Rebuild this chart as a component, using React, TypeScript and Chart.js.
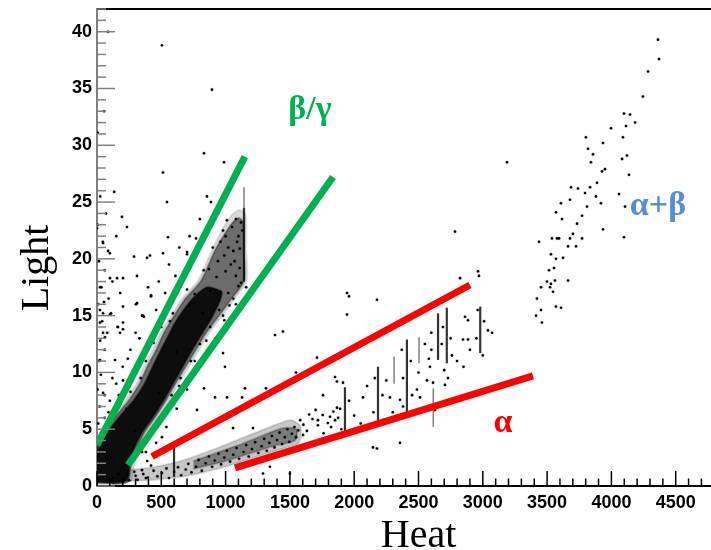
import React, { useEffect, useRef } from "react";
import { Chart, registerables } from "chart.js";

Chart.register(...registerables);

type P = [number, number];

// ---- axes ----
const X_MIN = 0;
const X_MAX = 5000;
const Y_MIN = 0;
const Y_MAX = 42;
const xTickValues = [0, 500, 1000, 1500, 2000, 2500, 3000, 3500, 4000, 4500, 5000];
const yTickValues = [0, 5, 10, 15, 20, 25, 30, 35, 40];
const X_MINOR_STEP = 100;
const Y_MINOR_STEP = 1;
const xTitle = "Heat";
const yTitle = "Light";

// ---- dense regions (outlines) ----
const betaOuter: P[] = [
  [0, 0.1], [0, 3.8], [25, 4.7], [125, 6.2], [225, 7.6], [305, 9], [365, 10.5], [435, 12],
  [495, 13.5], [575, 15], [655, 16.4], [785, 18.1], [895, 20.8], [1020, 23.5], [1100, 24.3],
  [1155, 24], [1160, 20.8], [1165, 18.1], [1065, 16.4], [975, 15], [875, 13.5], [795, 12],
  [715, 10.5], [635, 9], [565, 7.6], [475, 6], [395, 4.7], [325, 3], [285, 1.5], [265, 0.4], [140, 0.1],
];
const betaMid: P[] = [
  [0, 0.2], [0, 3.2], [20, 4], [47, 4.7], [150, 6.2], [250, 7.6], [330, 9], [390, 10.5],
  [460, 12], [520, 13.5], [600, 15], [680, 16.4], [810, 18.1], [920, 20.8], [1040, 23],
  [1100, 23.6], [1140, 23.2], [1140, 20.8], [1145, 18.1], [1040, 16.4], [950, 15], [850, 13.5],
  [770, 12], [690, 10.5], [610, 9], [540, 7.6], [450, 6], [370, 4.7], [300, 3], [260, 1.5],
  [240, 0.4], [120, 0.15],
];
const betaCore: P[] = [
  [5, 0.3], [0, 2.5], [30, 3.8], [80, 4.7], [190, 6.3], [290, 7.6], [370, 9], [425, 10.3],
  [485, 11.7], [545, 13], [605, 14.3], [680, 15.6], [770, 16.8], [860, 17.5], [970, 17],
  [900, 15], [820, 13.5], [740, 12], [665, 10.5], [590, 9], [520, 7.6], [430, 6], [350, 4.7],
  [285, 3.2], [250, 1.5], [230, 0.5], [120, 0.25],
];
const alphaOuter: P[] = [
  [100, 0.4], [400, 0.5], [700, 0.9], [1000, 1.7], [1250, 2.6], [1450, 3.3], [1570, 3.8],
  [1580, 5.3], [1500, 5.8], [1300, 5.0], [1100, 4.1], [900, 3.2], [650, 2.2], [400, 1.6], [150, 1.3],
];
const alphaInner: P[] = [
  [750, 1.5], [1000, 2.2], [1200, 2.9], [1400, 3.6], [1540, 4.0], [1550, 5.0], [1450, 5.1],
  [1300, 4.5], [1100, 3.6], [900, 2.8], [750, 2.2],
];

// ---- vertical streaks [x, yLow, yHigh] ----
const denseStreaks: [number, number, number][] = [
  [599, 0.8, 3.4], [1143, 18, 24.5], [1928, 4.3, 8.7], [2185, 5.2, 10.5], [2410, 6.1, 12.9],
  [2720, 10.8, 15.7], [2980, 11.7, 15.8], [2652, 11.1, 15.2],
];
const faintStreaks: [number, number, number][] = [
  [1143, 24.5, 26.3], [2310, 9, 11.4], [2504, 10.8, 13.1], [2615, 5.2, 8.6],
];

// ---- individual events ----
const betaPoints: P[] = [
  [60, 6], [100, 7.5], [150, 9], [200, 10.5], [260, 12], [300, 13.5], [350, 15], [420, 16.8],
  [480, 18], [560, 19.5], [640, 21], [720, 22], [800, 23.5], [90, 5.2], [170, 8], [240, 11.2],
  [330, 13], [460, 15.5], [530, 17], [610, 18.5], [700, 20.6], [770, 21.8], [860, 22.9], [920, 23.6],
  [350, 3], [420, 4.5], [500, 6], [580, 8], [650, 9.5], [730, 11], [800, 12.5], [880, 14],
  [950, 15.5], [1020, 17], [1080, 18.5], [390, 2.2], [460, 3.8], [540, 5.2], [620, 6.8],
  [700, 8.5], [760, 9.8], [840, 11.4], [920, 13], [990, 14.6], [1060, 16.5], [1100, 17.6],
  [1000, 22], [1050, 22.8], [1080, 23.5], [960, 21.5], [1020, 21], [1100, 22], [1120, 23.2],
  [990, 20.3], [1060, 20.7], [1110, 20.9], [940, 19.8], [1040, 19.5], [1090, 21.5], [1130, 22.5],
  [1010, 23.4], [250, 0.5], [300, 0.9], [350, 1.4], [380, 0.7], [420, 1.8], [200, 0.3],
  [880, 17.2], [930, 18.4], [1000, 18.9], [870, 19.1], [960, 17.1], [1070, 19.8], [1110, 19.2],
  [760, 16.9], [820, 15.2], [720, 15.9], [1030, 15.9], [1120, 17.9],
  [230, 6.8], [260, 8.3], [340, 9.5], [380, 11], [440, 12.6], [500, 14], [590, 15.2], [700, 17.3],
  [830, 19], [900, 21], [980, 22.5], [380, 3], [470, 5.2], [590, 7.2], [640, 8.8], [760, 11],
  [850, 12.8], [980, 15], [1080, 16], [1160, 17.5], [300, 4.8], [480, 8.2], [620, 11.8],
];
const alphaPoints: P[] = [
  [120, 0.7], [165, 1.1], [205, 0.6], [240, 0.95], [290, 1.25], [315, 0.55], [360, 1.05],
  [395, 0.75], [440, 1.35], [470, 0.85], [505, 1.15], [540, 1.55], [560, 0.7], [600, 1.25],
  [630, 1.65], [655, 0.95], [690, 1.45], [710, 1.95], [735, 1.2], [770, 1.7], [790, 2.3],
  [815, 1.35], [845, 2.0], [870, 2.6], [895, 1.7], [915, 2.25], [945, 2.85], [965, 1.9],
  [990, 2.5], [1010, 3.1], [1035, 2.15], [1060, 2.75], [1085, 3.35], [1105, 2.4], [1140, 3.0],
  [1160, 3.6], [1180, 2.6], [1205, 3.25], [1230, 3.85], [1255, 2.9], [1280, 3.5], [1300, 4.15],
  [1320, 3.1], [1340, 3.8], [1360, 4.4], [1380, 3.4], [1400, 4.05], [1420, 4.7], [1440, 3.7],
  [1460, 4.3], [1480, 5.0], [1495, 3.9], [1515, 4.6], [1535, 5.2], [1548, 4.3], [1565, 4.9],
  [1605, 5.4], [1632, 4.85], [1676, 5.9], [1718, 5.35], [1755, 6.25], [1795, 5.55], [1838, 6.55],
  [1875, 6.0], [1762, 4.65], [1650, 6.3], [1580, 5.8], [1700, 6.7], [1820, 5.2],
];
const mixedPoints: P[] = [
  [4362, 39.3], [4370, 37.6], [4285, 36.5], [4245, 34.3], [4098, 32.8], [4145, 32.7], [4114, 31.7],
  [4184, 32.0], [3997, 31.5], [3802, 30.7], [3935, 30.2], [4090, 30.7], [3818, 29.7], [3857, 29.2],
  [3841, 28.5], [4083, 28.8], [4121, 29.1], [4137, 27.4], [3927, 27.7], [3950, 27.9], [3888, 26.7],
  [3686, 26.3], [3740, 26.2], [3834, 26.3], [3795, 25.8], [3880, 25.5], [4059, 25.7], [3608, 24.9],
  [3678, 25.2], [3919, 24.9], [3810, 24.6], [4106, 24.6], [3569, 24.1], [3616, 23.5], [3772, 23.8],
  [3733, 23.1], [3935, 22.6], [4098, 21.9], [3437, 21.5], [3538, 21.8], [3577, 21.8], [3593, 21.8],
  [3678, 21.8], [3701, 22.2], [3772, 21.8], [3725, 21.1], [3663, 21.1], [3530, 20.4], [3569, 20.0],
  [3624, 20.1], [3515, 19.0], [3554, 19.2], [3663, 18.1], [3499, 18.0], [3530, 17.8], [3561, 18.1],
  [3453, 17.5], [3523, 17.5], [3546, 17.1], [3421, 16.5], [3569, 15.8], [3608, 15.7], [3453, 15.5],
  [3414, 15.0], [3460, 14.4],
];
const strayPoints: P[] = [
  [505, 38.8], [86, 40], [55, 33], [5, 31.1], [513, 27.6], [134, 25.9], [832, 29.3], [988, 28.5],
  [894, 34.9], [855, 25.5], [886, 25.0], [544, 25.0], [194, 23.7], [233, 22.8], [552, 21.9],
  [47, 21.4], [0, 22.7], [86, 20.7], [288, 20.2], [389, 20.1], [412, 20.3], [513, 20.5], [700, 20.4],
  [101, 18.3], [156, 18.3], [202, 18.3], [311, 18.5], [23, 17.5], [397, 17.5], [420, 16.7],
  [303, 16.0], [202, 15.8], [54, 16.2], [365, 14.9], [47, 15.2], [109, 15.2], [202, 14.4],
  [163, 14.0], [1384, 13.3], [1446, 13.6], [23, 14.4], [62, 13.1], [568, 14.5], [311, 16.1],
  [358, 15.0], [202, 13.8], [980, 11.7], [995, 10.5], [778, 6.7], [832, 8.6], [918, 7.8],
  [1011, 7.8], [1151, 8.6], [1128, 7.8], [1314, 8.6], [1547, 10.0], [1711, 11.3], [1757, 8.0],
  [1866, 9.2], [1602, 4.5], [1718, 5.8], [1866, 6.9], [505, 4.3], [1058, 5.1], [1213, 5.1],
  [1345, 1.7], [1291, 1.1], [1500, 1.1], [23, 15.5], [101, 15.1], [47, 13.5], [179, 13.5],
  [23, 11.1], [140, 11.1], [202, 9.3], [47, 8.2], [124, 6.7], [101, 4.9],
  [10, 5.5], [20, 7], [5, 8.5], [30, 9.8], [15, 11], [60, 12], [25, 12.8], [80, 13.5], [40, 14.5],
  [10, 16], [90, 16.5], [35, 17.5], [120, 18], [60, 19], [15, 19.8], [100, 20.5], [45, 21.5],
  [5, 23], [70, 24], [25, 25.5], [150, 22], [180, 17], [160, 14], [120, 9.5], [60, 8], [90, 6.5],
  [2823, 18.3], [2963, 18.9], [2970, 18.5], [1944, 17.0], [2177, 16.4], [1944, 15.1], [2862, 14.9],
  [2885, 14.6], [3040, 13.7], [3072, 13.5], [2846, 12.9], [2885, 12.9], [1851, 9.6], [1913, 9.1],
  [2068, 7.8], [2278, 7.8], [2512, 7.8], [2488, 8.5], [2566, 9.3], [2589, 10.5], [2356, 7.6],
  [2380, 7.0], [2706, 8.9], [2729, 9.5], [2613, 9.1], [2644, 7.0], [2628, 6.7], [2146, 3.4],
  [2177, 3.3], [2356, 3.8], [1812, 6.1], [1851, 5.8], [3188, 28.5], [2784, 22.4], [1960, 16.7],
  [2150, 6.5], [2220, 8.0], [2160, 9.5], [2230, 5.8], [2380, 9.5], [2440, 11], [2450, 8],
  [2370, 12], [2430, 6.5], [2680, 12.5], [2690, 14], [2750, 13], [2760, 11.5], [2700, 10.2],
  [2600, 12], [2580, 11.2], [1900, 5], [1960, 7.5], [1890, 6.8], [1970, 4.8], [2950, 13],
  [3010, 14.5], [2960, 15.5], [3000, 11.5], [2000, 6.2], [2050, 5.5], [2100, 8.8], [2250, 9.3],
  [2300, 6.5], [2500, 10], [2550, 12.5], [2600, 13.5], [2800, 11], [2850, 10.5], [2900, 12],
];

// ---- guide lines ----
const greenLines: [P, P][] = [
  [[0, 3.6], [1150, 29.0]],
  [[241, 1.85], [1835, 27.2]],
];
const redLines: [P, P][] = [
  [[428, 2.6], [2900, 17.7]],
  [[1073, 1.6], [3390, 9.7]],
];

// ---- annotations (text, anchor in data units: x centre, y baseline) ----
const annotationTexts = ["β/γ", "α+β", "α"];
const annotationX = [1656, 4362, 3157];
const annotationY = [32.3, 23.9, 4.76];

const GREEN = "#00b050";
const RED = "#ff0000";
const BLUE = "#558ed5";
const annotationColors = [GREEN, BLUE, RED];

const toXY = (pts: P[]) => pts.map(([x, y]) => ({ x, y }));

const polygon = (pts: P[], alpha: number, order: number) => ({
  data: toXY(pts),
  showLine: true,
  fill: "shape",
  backgroundColor: `rgba(0,0,0,${alpha})`,
  borderColor: `rgba(0,0,0,${alpha * 0.6})`,
  borderWidth: 2,
  pointRadius: 0,
  tension: 0.25,
  order,
});

const scatter = (pts: P[], order: number) => ({
  data: toXY(pts),
  showLine: false,
  pointRadius: 1.3,
  pointBackgroundColor: "#000",
  pointBorderColor: "rgba(0,0,0,0.12)",
  pointBorderWidth: 1.5,
  order,
});

const segment = (a: P, b: P, color: string, width: number, order: number) => ({
  data: toXY([a, b]),
  showLine: true,
  fill: false,
  borderColor: color,
  borderWidth: width,
  borderCapStyle: "butt",
  pointRadius: 0,
  order,
});

const decorPlugin = {
  id: "decor",
  afterDraw(chart: any) {
    const { ctx, chartArea: a, scales } = chart;
    const xs = scales.x;
    const ys = scales.y;
    ctx.save();
    ctx.strokeStyle = "#000";
    ctx.lineWidth = 2;
    ctx.beginPath();
    ctx.moveTo(a.left, a.top);
    ctx.lineTo(a.right, a.top);
    ctx.stroke();
    ctx.strokeStyle = "#808080";
    ctx.lineWidth = 1.5;
    for (let v = Y_MIN; v <= Y_MAX; v += Y_MINOR_STEP) {
      const p = ys.getPixelForValue(v);
      const len = yTickValues.includes(v) ? 18 : 9;
      ctx.beginPath();
      ctx.moveTo(a.left, p);
      ctx.lineTo(a.left + len, p);
      ctx.stroke();
    }
    ctx.strokeStyle = "#000";
    for (let v = X_MIN; v <= X_MAX; v += X_MINOR_STEP) {
      const p = xs.getPixelForValue(v);
      const len = xTickValues.includes(v) ? 15 : 7.5;
      ctx.beginPath();
      ctx.moveTo(p, a.bottom);
      ctx.lineTo(p, a.bottom - len);
      ctx.stroke();
    }
    ctx.fillStyle = "#000";
    ctx.font = '40px "Liberation Serif", "Times New Roman", serif';
    ctx.textAlign = "center";
    ctx.textBaseline = "alphabetic";
    ctx.fillText(xTitle, (a.left + a.right) / 2, 547);
    ctx.save();
    ctx.translate(48, 268);
    ctx.rotate(-Math.PI / 2);
    ctx.fillText(yTitle, 0, 0);
    ctx.restore();
    ctx.font = 'bold 34px "Liberation Serif", "Times New Roman", serif';
    annotationTexts.forEach((t, i) => {
      ctx.fillStyle = annotationColors[i];
      ctx.fillText(t, xs.getPixelForValue(annotationX[i]), ys.getPixelForValue(annotationY[i]));
    });
    ctx.restore();
  },
};

const tickFont = { family: '"Liberation Sans", Arial, sans-serif', size: 18, weight: "bold" as const };

export default function App() {
  const ref = useRef<HTMLCanvasElement>(null);
  useEffect(() => {
    if (!ref.current) return;
    const datasets: any[] = [
      polygon(betaOuter, 0.15, 20),
      polygon(alphaOuter, 0.22, 20),
      polygon(alphaInner, 0.38, 19),
      polygon(betaMid, 0.5, 19),
      polygon(betaCore, 0.88, 18),
      ...denseStreaks.map(([x, y0, y1]) => segment([x, y0], [x, y1], "rgba(0,0,0,0.8)", 2.2, 10)),
      ...faintStreaks.map(([x, y0, y1]) => segment([x, y0], [x, y1], "rgba(0,0,0,0.5)", 1.5, 10)),
      scatter(betaPoints, 5),
      scatter(alphaPoints, 5),
      scatter(mixedPoints, 5),
      scatter(strayPoints, 5),
      ...greenLines.map(([p, q]) => segment(p, q, GREEN, 7, 0)),
      ...redLines.map(([p, q]) => segment(p, q, RED, 7, 0)),
    ];
    const chart = new Chart(ref.current, {
      type: "line",
      data: { datasets },
      options: {
        animation: false,
        responsive: false,
        events: [],
        layout: { padding: { left: 0, top: 9, right: 40, bottom: 0 } },
        plugins: { legend: { display: false }, tooltip: { enabled: false } },
        scales: {
          x: {
            type: "linear",
            min: X_MIN,
            max: X_MAX,
            afterBuildTicks: (s: any) => {
              s.ticks = xTickValues.map((value) => ({ value }));
            },
            afterFit: (s: any) => {
              s.height = 64;
              s.paddingLeft = 0;
              s.paddingRight = 0;
            },
            ticks: {
              font: tickFont,
              color: "#000",
              padding: 6,
              maxRotation: 0,
              autoSkip: false,
              callback: (v: any) => String(v),
            },
            grid: { display: false, drawTicks: false },
            border: { display: true, color: "#000", width: 2 },
          },
          y: {
            type: "linear",
            min: Y_MIN,
            max: Y_MAX,
            afterBuildTicks: (s: any) => {
              s.ticks = yTickValues.map((value) => ({ value }));
            },
            afterFit: (s: any) => {
              s.width = 97;
              s.paddingTop = 0;
              s.paddingBottom = 0;
            },
            ticks: { font: tickFont, color: "#000", padding: 5, autoSkip: false, callback: (v: any) => String(v) },
            grid: { display: false, drawTicks: false },
            border: { display: true, color: "#808080", width: 2 },
          },
        },
      } as any,
      plugins: [decorPlugin],
    });
    return () => chart.destroy();
  }, []);
  return (
    <div
      style={{
        position: "fixed",
        left: 0,
        top: 0,
        width: 711,
        height: 550,
        overflow: "hidden",
        background: "#fff",
      }}
    >
      <canvas ref={ref} width={780} height={550} style={{ display: "block" }} />
    </div>
  );
}
